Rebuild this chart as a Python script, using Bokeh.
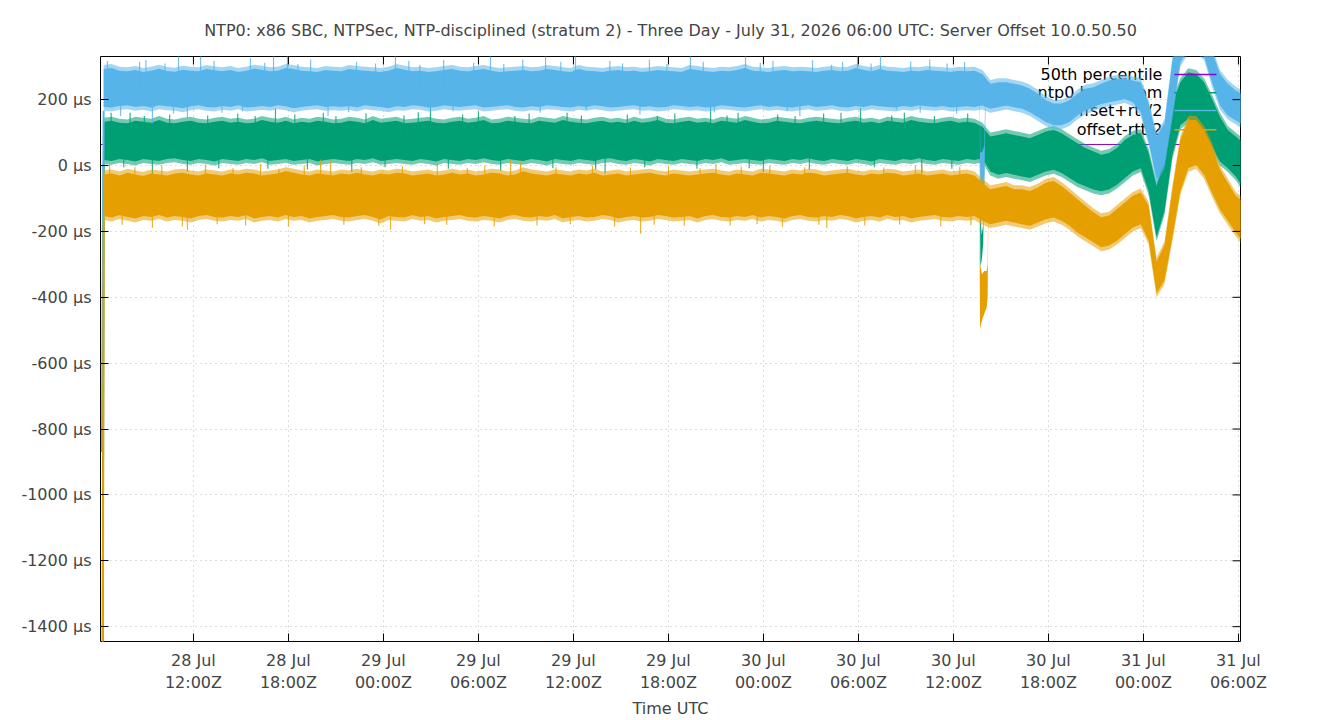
import numpy as np
from bokeh.plotting import figure
from bokeh.models import Range1d, FixedTicker, Span
from bokeh.core.properties import value
from bokeh.embed import file_html
from bokeh.resources import INLINE

FONT = "DejaVu Sans"
BLUE = "#56b4e9"
GREEN = "#009e73"
ORANGE = "#e69f00"
PURPLE = "#9400d3"

# ---------------------------------------------------------------------------
# Data: server offset (µs) against time in hours since 28 Jul 2026 00:00 UTC.
# Each series is summarised per half-hour bin by the low and high edge of
# its band.
# ---------------------------------------------------------------------------
t = 6.33 + 0.5 * np.arange(145)

offset_lo = [
    5, 2, 8, 5, 0, 8, 5, 2, 8, 10, 5, 2, 8, 5, 0,
    8, 5, 2, 8, 5, 10, 2, 5, 8, 2, 5, 8, 0, 5, 8,
    5, 2, 8, 5, 10, 2, 5, 8, 5, 2, 8, 5, 0, 8, 5,
    2, 8, 5, 10, 5, 2, 8, 5, 2, 8, 5, 0, 8, 5, 2,
    8, 5, 2, 8, 10, 5, 2, 8, 5, 0, 8, 5, 2, 8, 5,
    2, 8, 5, 10, 2, 5, 8, 5, 2, 8, 5, 2, 8, 5, 10,
    5, 2, 8, 5, 2, 8, 5, 0, 8, 5, 2, 8, 5, 10, 5,
    2, 8, 5, 2, 8, 5,
    10, -30, -40, -35, -40, -45, -50, -40, -30, -25,
    -35, -50, -65, -75, -85, -90, -85, -70, -50, -30,
    -20, -90, -230, -150, 20, 110, 130, 115, 90, 45,
    0, -20, -45, -80,
]
offset_hi = [
    145, 148, 142, 140, 148, 145, 142, 150, 142, 140, 145, 148, 142, 140, 145,
    148, 142, 145, 140, 142, 150, 145, 142, 148, 140, 145, 142, 148, 145, 140,
    142, 148, 145, 140, 150, 142, 145, 148, 140, 142, 145, 148, 142, 140, 145,
    148, 142, 145, 150, 140, 142, 148, 145, 142, 140, 148, 145, 142, 150, 145,
    142, 140, 145, 148, 142, 145, 140, 148, 142, 145, 150, 142, 140, 145, 148,
    142, 145, 140, 148, 145, 142, 150, 145, 140, 142, 148, 145, 142, 140, 145,
    148, 145, 142, 140, 145, 148, 142, 145, 140, 148, 145, 142, 150, 145, 142,
    140, 145, 148, 142, 145, 142,
    130, 100, 105, 110, 105, 100, 95, 105, 115, 120,
    110, 95, 80, 65, 55, 45, 50, 65, 90, 105,
    110, 50, -50, 40, 200, 265, 295, 290, 265, 215,
    160, 120, 100, 80,
]

plus_lo = [
    166, 164, 169, 171, 166, 169, 164, 171, 168, 166, 162, 168, 171, 166, 164,
    169, 166, 171, 164, 166, 169, 166, 171, 168, 162, 166, 169, 171, 166, 168,
    166, 169, 164, 171, 168, 166, 162, 168, 166, 171, 169, 164, 166, 171, 168,
    166, 169, 171, 164, 166, 169, 171, 166, 164, 168, 166, 171, 169, 166, 164,
    169, 166, 171, 168, 164, 166, 169, 171, 166, 168, 164, 166, 171, 169, 166,
    168, 164, 166, 171, 169, 166, 164, 168, 171, 166, 169, 166, 164, 168, 171,
    166, 168, 171, 166, 164, 169, 166, 171, 168, 166, 164, 169, 166, 171, 168,
    166, 169, 164, 166, 168, 166,
    170, 160, 165, 170, 165, 160, 150, 135, 120, 110,
    110, 120, 140, 155, 165, 175, 180, 185, 190, 180,
    150, 60, -55, -10, 140, 300, 340, 340, 320, 240,
    170, 140, 125, 110,
]
plus_hi = [
    305, 308, 300, 298, 302, 296, 300, 306, 299, 297, 303, 300, 298, 305, 301,
    298, 302, 296, 300, 306, 303, 298, 300, 308, 305, 300, 298, 296, 302, 300,
    298, 305, 302, 300, 298, 296, 300, 308, 303, 298, 300, 296, 298, 302, 305,
    300, 298, 302, 305, 300, 296, 298, 300, 302, 298, 300, 305, 302, 298, 296,
    305, 300, 298, 296, 300, 302, 298, 300, 296, 298, 302, 300, 298, 296, 305,
    302, 298, 296, 300, 298, 302, 308, 300, 298, 296, 300, 302, 298, 300, 298,
    296, 300, 302, 298, 300, 308, 302, 298, 305, 300, 298, 296, 300, 298, 302,
    300, 298, 296, 300, 298, 300,
    290, 260, 265, 265, 260, 255, 245, 230, 210, 200,
    200, 210, 230, 245, 250, 260, 270, 275, 275, 270,
    265, 200, 100, 140, 330, 420, 460, 460, 440, 360,
    290, 260, 240, 225,
]

minus_lo = [
    -165, -170, -162, -168, -173, -165, -168, -162, -170, -165, -168, -173, -165, -162, -168,
    -170, -165, -168, -162, -173, -168, -165, -170, -162, -168, -165, -173, -168, -165, -162,
    -168, -170, -165, -162, -168, -176, -165, -168, -170, -162, -168, -165, -173, -168, -165,
    -162, -168, -170, -165, -168, -173, -165, -162, -168, -170, -165, -168, -162, -173, -168,
    -165, -170, -168, -162, -165, -173, -168, -165, -170, -168, -162, -165, -170, -168, -165,
    -173, -165, -162, -168, -170, -165, -168, -162, -170, -165, -168, -173, -165, -162, -168,
    -170, -165, -168, -162, -165, -173, -168, -165, -170, -162, -168, -165, -173, -168, -165,
    -162, -168, -170, -165, -168, -165,
    -180, -190, -185, -180, -185, -190, -195, -185, -175, -170,
    -180, -195, -215, -230, -245, -260, -255, -240, -220, -200,
    -190, -240, -400, -360, -230, -90, -20, -10, -40, -95,
    -145, -180, -215, -245,
]
minus_hi = [
    -15, -12, -18, -10, -15, -20, -12, -15, -18, -12, -10, -15, -18, -12, -15,
    -18, -12, -15, -10, -12, -18, -15, -12, -5, -10, -15, -18, -12, -15, -18,
    -12, -15, -10, -15, -18, -12, -15, -10, -12, -18, -15, -12, -18, -15, -10,
    -15, -12, -18, -15, -10, -12, -18, -15, -5, -12, -15, -18, -12, -15, -18,
    -12, -15, -10, -18, -15, -12, -18, -15, -12, -10, -15, -18, -12, -15, -18,
    -15, -12, -10, -15, -18, -12, -15, -18, -10, -12, -15, -18, -12, -15, -10,
    -12, -18, -15, -12, -10, -15, -18, -12, -15, -10, -12, -18, -15, -12, -18,
    -15, -12, -18, -15, -12, -18,
    -40, -60, -55, -50, -60, -60, -65, -55, -40, -35,
    -50, -70, -90, -110, -130, -145, -140, -120, -100, -80,
    -70, -110, -280, -230, -60, 90, 150, 150, 120, 70,
    0, -40, -80, -100,
]

# first sample after start-up, well below the plotted range
first_t_plus = 6.22
first_t = 6.27
first_offset = -1500
first_plus = -870
first_minus = -1600

# step at 30 Jul ~13:40 UTC
offset_step_t = [61.66, 61.70, 61.78, 61.88, 61.95]
offset_step_lo = [20, -307, -290, -240, -20]
offset_step_hi = [120, -140, -210, -180, 90]
plus_step_t = [61.66, 61.70, 61.80, 61.95, 62.02]
plus_step_lo = [170, -140, -120, -60, 160]
plus_step_hi = [260, 40, 40, 60, 250]
minus_step_t = [61.64, 61.68, 61.80, 61.95, 62.10, 62.16, 62.20]
minus_step_lo = [-150, -496, -470, -450, -430, -400, -170]
minus_step_hi = [-50, -300, -330, -320, -320, -300, -70]

# typical level of each series before the step, and its isolated outliers
offset_level = 72
offset_spike_t = [6.8, 7.6, 8.0, 8.9, 9.41, 10.5, 11.62, 12.9, 13.6, 14.8,
                  15.9, 16.7, 17.18, 18.4, 19.2, 20.2, 21.0, 22.0, 22.9, 24.1,
                  25.3, 26.2, 26.97, 28.1, 29.0, 30.0, 31.4, 32.3, 33.2, 34.7,
                  35.6, 36.5, 37.4, 38.0, 39.4, 40.5, 41.3, 42.4, 43.8, 44.66,
                  45.7, 46.4, 47.1, 48.0, 48.9, 50.0, 50.9, 51.8, 52.9, 54.13,
                  55.0, 56.1, 56.9, 58.0, 58.8, 59.9, 60.9]
offset_spike_v = [160, -5, 160, 150, -27, 155, -18, 152, -8, 158,
                  150, -10, 173, 155, -12, 160, 150, -20, 158, -5,
                  152, 162, 180, -10, 155, 165, -15, 150, 158, -8,
                  160, 152, -12, -25, 155, -5, 150, 158, -10, 180,
                  152, 160, -8, -20, 155, 150, -12, 158, 160, 175,
                  -5, 152, 160, -22, 150, -10, 158]

plus_level = 232
plus_spike_t = [6.57, 7.4, 8.6, 9.0, 9.41, 10.2, 10.74, 11.06, 11.62, 12.45,
                13.3, 13.8, 15.1, 15.6, 16.5, 17.06, 17.94, 18.6, 19.4, 20.5,
                21.8, 22.3, 23.5, 24.76, 25.6, 26.3, 27.8, 28.4, 29.7, 30.76,
                31.6, 32.8, 33.9, 34.24, 35.2, 36.13, 36.8, 38.3, 39.1, 40.2,
                40.8, 41.9, 43.39, 44.2, 44.9, 46.87, 47.8, 48.6, 49.5, 50.3,
                51.1, 52.3, 53.0, 53.94, 54.8, 55.39, 56.4, 57.3, 57.9, 58.5,
                59.6, 60.2, 60.7]
plus_spike_v = [317, 150, 315, 320, 128, 310, 158, 340, 143, 340,
                318, 160, 165, 326, 312, 340, 340, 308, 322, 150,
                162, 315, 310, 340, 318, 306, 320, 165, 312, 340,
                308, 322, 160, 340, 315, 340, 168, 318, 310, 155,
                322, 308, 340, 315, 162, 340, 312, 318, 165, 150,
                320, 306, 315, 340, 310, 340, 168, 316, 160, 322,
                310, 158, 314]

minus_level = -95
minus_spike_t = [6.7, 7.5, 8.3, 9.41, 10.0, 11.3, 11.62, 12.76, 13.5, 14.5,
                 15.3, 16.24, 17.4, 18.0, 19.0, 20.03, 20.66, 21.5, 22.6, 23.7,
                 24.45, 25.2, 26.6, 27.4, 28.0, 29.3, 30.4, 31.0, 32.03, 32.66,
                 33.7, 34.9, 35.8, 37.2, 38.6, 39.6, 40.24, 41.1, 42.0, 43.0,
                 44.0, 45.0, 45.9, 46.6, 47.6, 48.4, 49.2, 50.6, 51.5, 52.0,
                 53.3, 54.4, 55.6, 56.6, 57.6, 58.0, 59.2, 60.4, 61.1]
minus_spike_v = [5, -180, -5, -189, 0, -185, -195, 3, -178, -8,
                 -182, 5, -10, -185, 0, 18, 15, -180, -5, -183,
                 -195, -2, -178, 5, -180, -8, 0, -185, 18, 12,
                 -182, -5, -178, 0, -185, -6, -207, -180, -2, -183,
                 -8, 5, -182, -4, -178, 0, -186, -5, -180, -190,
                 -3, -182, -6, -179, 0, 0, -184, -4, -181]

p50 = 63.9  # 50th percentile of offset

# axis ticks
x_ticks = [12, 18, 24, 30, 36, 42, 48, 54, 60, 66, 72, 78]
x_tick_labels = ["28 Jul\n12:00Z", "28 Jul\n18:00Z", "29 Jul\n00:00Z", "29 Jul\n06:00Z",
                 "29 Jul\n12:00Z", "29 Jul\n18:00Z", "30 Jul\n00:00Z", "30 Jul\n06:00Z",
                 "30 Jul\n12:00Z", "30 Jul\n18:00Z", "31 Jul\n00:00Z", "31 Jul\n06:00Z"]
y_ticks = [-1400, -1200, -1000, -800, -600, -400, -200, 0, 200]
y_tick_labels = [f"{v} µs" for v in y_ticks]

legend_labels = ["50th percentile", "ntp0.bollar.com", "offset+rtt/2", "offset-rtt/2"]
legend_colors = [PURPLE, GREEN, BLUE, ORANGE]

X0, X1 = 6.13, 78.13
Y0, Y1 = -1445, 331
FRAME_W, FRAME_H = 1140, 585
CORE_INSET = 12  # µs; the outer part of each band is drawn lighter

# ---------------------------------------------------------------------------
p = figure(
    frame_width=FRAME_W, frame_height=FRAME_H,
    min_border_left=100, min_border_right=100,
    min_border_top=56, min_border_bottom=79,
    x_range=Range1d(X0, X1), y_range=Range1d(Y0, Y1),
    output_backend="svg", toolbar_location=None,
    title="NTP0: x86 SBC, NTPSec, NTP-disciplined (stratum 2) - Three Day - "
          "July 31, 2026 06:00 UTC: Server Offset 10.0.50.50",
)
p.background_fill_color = "white"
p.border_fill_color = "white"
p.outline_line_color = "black"
p.outline_line_width = 1

p.title.text_font = FONT
p.title.text_font_size = "16px"
p.title.text_font_style = "normal"
p.title.align = "center"
p.title.standoff = 34

FS = "16px"

xa = p.xaxis[0]
xa.ticker = FixedTicker(ticks=x_ticks)
xa.major_label_overrides = dict(zip(x_ticks, x_tick_labels))
xa.axis_label = "Time UTC"
ya = p.yaxis[0]
ya.ticker = FixedTicker(ticks=y_ticks)
ya.major_label_overrides = dict(zip(y_ticks, y_tick_labels))

for ax in (xa, ya):
    ax.axis_line_color = None
    ax.major_tick_in = 8
    ax.major_tick_out = 0
    ax.minor_tick_in = 0
    ax.minor_tick_out = 0
    ax.major_tick_line_color = "black"
    ax.major_label_text_font = FONT
    ax.major_label_text_font_size = FS
    ax.axis_label_text_font = FONT
    ax.axis_label_text_font_size = FS
    ax.axis_label_text_font_style = "normal"
xa.major_label_standoff = 9
xa.axis_label_standoff = 4
ya.major_label_standoff = 9

for g in (p.xgrid[0], p.ygrid[0]):
    g.grid_line_color = "#b8b8b8"
    g.grid_line_dash = "1 4"
    g.grid_line_width = 1

# key text sits underneath the traces
key_x = 73.2
key_y = [276, 221, 167, 109]
p.text(x=[key_x] * 4, y=key_y, text=legend_labels, text_align="right",
       text_baseline="middle", text_font=value(FONT), text_font_size=FS,
       text_color="black")

# 50th percentile
p.add_layout(Span(location=p50, dimension="width", line_color=PURPLE,
                  line_width=1, level="underlay"))


def draw_series(color, lo, hi, t_first, first, step_t, step_lo, step_hi,
                level, sp_t, sp_v):
    lo = np.asarray(lo, dtype=float)
    hi = np.asarray(hi, dtype=float)
    p.line(x=[t_first, t[0]], y=[first, lo[0]], line_color=color, line_width=2)
    # lighter fringe, solid core
    p.varea(x=t, y1=lo, y2=hi, fill_color=color, fill_alpha=0.55)
    p.varea(x=t, y1=lo + CORE_INSET, y2=hi - CORE_INSET, fill_color=color)
    p.varea(x=step_t, y1=step_lo, y2=step_hi, fill_color=color)
    p.segment(x0=sp_t, y0=[level] * len(sp_t), x1=sp_t, y1=sp_v,
              line_color=color, line_width=1.2, line_alpha=0.8)


draw_series(GREEN, offset_lo, offset_hi, first_t, first_offset,
            offset_step_t, offset_step_lo, offset_step_hi,
            offset_level, offset_spike_t, offset_spike_v)
draw_series(BLUE, plus_lo, plus_hi, first_t_plus, first_plus,
            plus_step_t, plus_step_lo, plus_step_hi,
            plus_level, plus_spike_t, plus_spike_v)
draw_series(ORANGE, minus_lo, minus_hi, first_t, first_minus,
            minus_step_t, minus_step_lo, minus_step_hi,
            minus_level, minus_spike_t, minus_spike_v)

# key samples
p.segment(x0=[73.96] * 4, y0=key_y, x1=[76.61] * 4, y1=key_y,
          line_color=legend_colors, line_width=1.5)

# mirrored tick marks on the top and right borders (8 px, pointing inward)
tick_dy = 8 * (Y1 - Y0) / FRAME_H
tick_dx = 8 * (X1 - X0) / FRAME_W
p.segment(x0=x_ticks, y0=[Y1] * len(x_ticks), x1=x_ticks, y1=[Y1 - tick_dy] * len(x_ticks),
          line_color="black", line_width=1)
p.segment(x0=[X1] * len(y_ticks), y0=y_ticks, x1=[X1 - tick_dx] * len(y_ticks), y1=y_ticks,
          line_color="black", line_width=1)

open("out.html", "w").write(file_html(p, INLINE))
